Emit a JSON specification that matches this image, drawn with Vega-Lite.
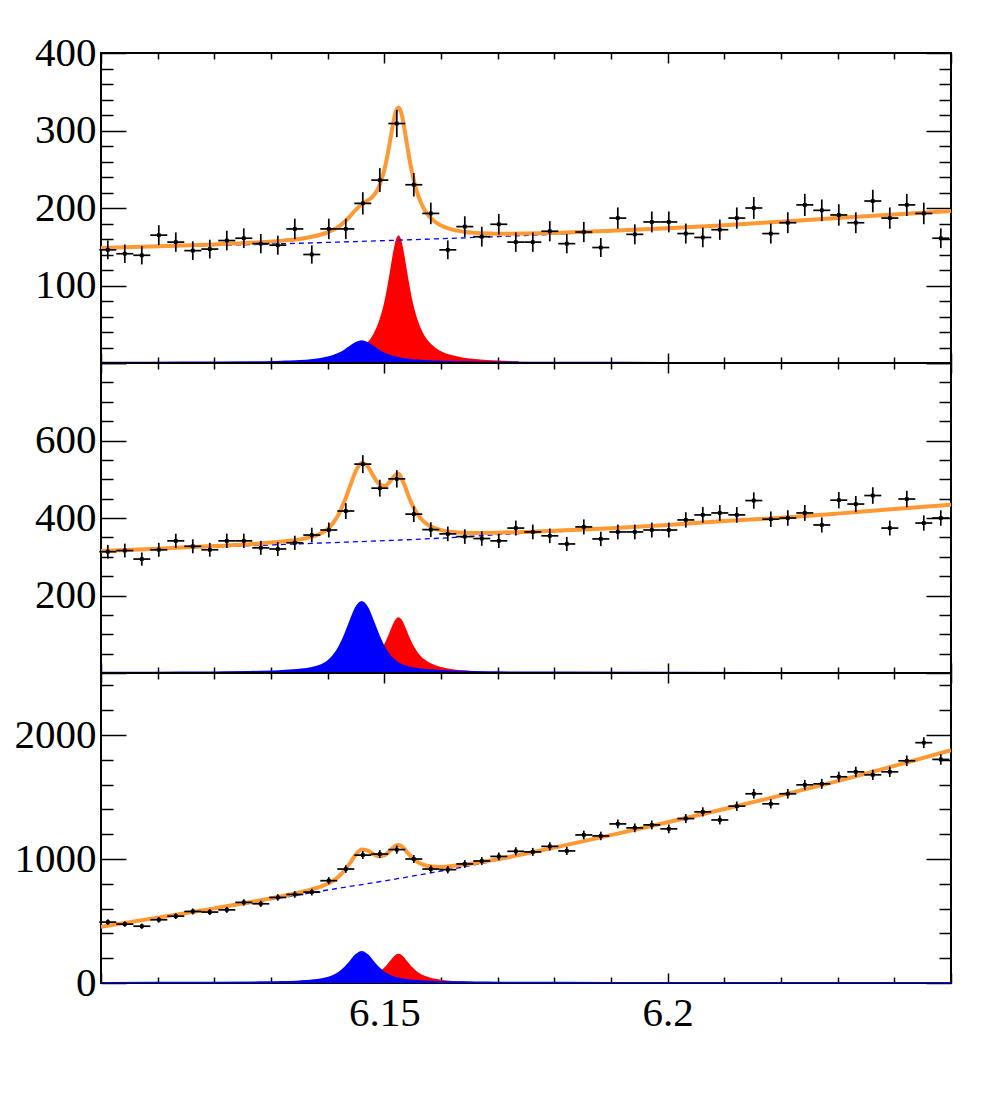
{
"$schema":"https://vega.github.io/schema/vega-lite/v6.json",
"padding":{"left":13,"top":31,"right":10,"bottom":10},
"spacing":0,
"bounds":"flush",
"config":{"view":{"stroke":"#000","strokeWidth":2},"axis":{"labelFont":"Liberation Serif","labelFontSize":41,"labelColor":"#000","tickColor":"#000","tickWidth":1.5,"domain":false,"grid":false,"labelOverlap":false,"labelBound":false,"labelFlush":false}},
"datasets":{
"pts":[
{"p":1,"x":6.1012,"y":146,"e":12.1},{"p":1,"x":6.1042,"y":141,"e":11.9},{"p":1,"x":6.1072,"y":139,"e":11.8},{"p":1,"x":6.1102,"y":165,"e":12.8},{"p":1,"x":6.1132,"y":156,"e":12.5},{"p":1,"x":6.1162,"y":145,"e":12.0},{"p":1,"x":6.1192,"y":147,"e":12.1},{"p":1,"x":6.1222,"y":158,"e":12.6},{"p":1,"x":6.1252,"y":161,"e":12.7},{"p":1,"x":6.1282,"y":154,"e":12.4},{"p":1,"x":6.1312,"y":152,"e":12.3},{"p":1,"x":6.1342,"y":173,"e":13.2},{"p":1,"x":6.1372,"y":140,"e":11.8},{"p":1,"x":6.1402,"y":173,"e":13.2},{"p":1,"x":6.1432,"y":173,"e":13.2},{"p":1,"x":6.1462,"y":206,"e":14.4},{"p":1,"x":6.1492,"y":236,"e":15.4},{"p":1,"x":6.1522,"y":309,"e":17.6},{"p":1,"x":6.1552,"y":230,"e":15.2},{"p":1,"x":6.1582,"y":193,"e":13.9},{"p":1,"x":6.1612,"y":146,"e":12.1},{"p":1,"x":6.1642,"y":176,"e":13.3},{"p":1,"x":6.1672,"y":163,"e":12.8},{"p":1,"x":6.1702,"y":179,"e":13.4},{"p":1,"x":6.1732,"y":156,"e":12.5},{"p":1,"x":6.1762,"y":156,"e":12.5},{"p":1,"x":6.1792,"y":170,"e":13.0},{"p":1,"x":6.1822,"y":154,"e":12.4},{"p":1,"x":6.1852,"y":169,"e":13.0},{"p":1,"x":6.1882,"y":149,"e":12.2},{"p":1,"x":6.1912,"y":187,"e":13.7},{"p":1,"x":6.1942,"y":166,"e":12.9},{"p":1,"x":6.1972,"y":182,"e":13.5},{"p":1,"x":6.2002,"y":182,"e":13.5},{"p":1,"x":6.2032,"y":167,"e":12.9},{"p":1,"x":6.2062,"y":162,"e":12.7},{"p":1,"x":6.2092,"y":172,"e":13.1},{"p":1,"x":6.2122,"y":187,"e":13.7},{"p":1,"x":6.2152,"y":200,"e":14.1},{"p":1,"x":6.2182,"y":167,"e":12.9},{"p":1,"x":6.2212,"y":181,"e":13.5},{"p":1,"x":6.2242,"y":204,"e":14.3},{"p":1,"x":6.2272,"y":197,"e":14.0},{"p":1,"x":6.2302,"y":191,"e":13.8},{"p":1,"x":6.2332,"y":181,"e":13.5},{"p":1,"x":6.2362,"y":209,"e":14.5},{"p":1,"x":6.2392,"y":187,"e":13.7},{"p":1,"x":6.2422,"y":204,"e":14.3},{"p":1,"x":6.2452,"y":193,"e":13.9},{"p":1,"x":6.2482,"y":161,"e":12.7},
{"p":2,"x":6.1012,"y":313,"e":17.7},{"p":2,"x":6.1042,"y":316,"e":17.8},{"p":2,"x":6.1072,"y":294,"e":17.1},{"p":2,"x":6.1102,"y":318,"e":17.8},{"p":2,"x":6.1132,"y":341,"e":18.5},{"p":2,"x":6.1162,"y":327,"e":18.1},{"p":2,"x":6.1192,"y":318,"e":17.8},{"p":2,"x":6.1222,"y":341,"e":18.5},{"p":2,"x":6.1252,"y":341,"e":18.5},{"p":2,"x":6.1282,"y":323,"e":18.0},{"p":2,"x":6.1312,"y":320,"e":17.9},{"p":2,"x":6.1342,"y":336,"e":18.3},{"p":2,"x":6.1372,"y":356,"e":18.9},{"p":2,"x":6.1402,"y":369,"e":19.2},{"p":2,"x":6.1432,"y":418,"e":20.4},{"p":2,"x":6.1462,"y":539,"e":23.2},{"p":2,"x":6.1492,"y":477,"e":21.8},{"p":2,"x":6.1522,"y":501,"e":22.4},{"p":2,"x":6.1552,"y":410,"e":20.2},{"p":2,"x":6.1582,"y":370,"e":19.2},{"p":2,"x":6.1612,"y":359,"e":18.9},{"p":2,"x":6.1642,"y":352,"e":18.8},{"p":2,"x":6.1672,"y":347,"e":18.6},{"p":2,"x":6.1702,"y":341,"e":18.5},{"p":2,"x":6.1732,"y":374,"e":19.3},{"p":2,"x":6.1762,"y":364,"e":19.1},{"p":2,"x":6.1792,"y":354,"e":18.8},{"p":2,"x":6.1822,"y":333,"e":18.2},{"p":2,"x":6.1852,"y":377,"e":19.4},{"p":2,"x":6.1882,"y":346,"e":18.6},{"p":2,"x":6.1912,"y":364,"e":19.1},{"p":2,"x":6.1942,"y":364,"e":19.1},{"p":2,"x":6.1972,"y":369,"e":19.2},{"p":2,"x":6.2002,"y":369,"e":19.2},{"p":2,"x":6.2032,"y":395,"e":19.9},{"p":2,"x":6.2062,"y":408,"e":20.2},{"p":2,"x":6.2092,"y":413,"e":20.3},{"p":2,"x":6.2122,"y":408,"e":20.2},{"p":2,"x":6.2152,"y":445,"e":21.1},{"p":2,"x":6.2182,"y":397,"e":19.9},{"p":2,"x":6.2212,"y":400,"e":20.0},{"p":2,"x":6.2242,"y":413,"e":20.3},{"p":2,"x":6.2272,"y":382,"e":19.5},{"p":2,"x":6.2302,"y":446,"e":21.1},{"p":2,"x":6.2332,"y":436,"e":20.9},{"p":2,"x":6.2362,"y":458,"e":21.4},{"p":2,"x":6.2392,"y":374,"e":19.3},{"p":2,"x":6.2422,"y":449,"e":21.2},{"p":2,"x":6.2452,"y":387,"e":19.7},{"p":2,"x":6.2482,"y":400,"e":20.0},
{"p":3,"x":6.1012,"y":491,"e":22.2},{"p":3,"x":6.1042,"y":475,"e":21.8},{"p":3,"x":6.1072,"y":458,"e":21.4},{"p":3,"x":6.1102,"y":510,"e":22.6},{"p":3,"x":6.1132,"y":539,"e":23.2},{"p":3,"x":6.1162,"y":577,"e":24.0},{"p":3,"x":6.1192,"y":572,"e":23.9},{"p":3,"x":6.1222,"y":590,"e":24.3},{"p":3,"x":6.1252,"y":650,"e":25.5},{"p":3,"x":6.1282,"y":639,"e":25.3},{"p":3,"x":6.1312,"y":690,"e":26.3},{"p":3,"x":6.1342,"y":714,"e":26.7},{"p":3,"x":6.1372,"y":733,"e":27.1},{"p":3,"x":6.1402,"y":825,"e":28.7},{"p":3,"x":6.1432,"y":919,"e":30.3},{"p":3,"x":6.1462,"y":1032,"e":32.1},{"p":3,"x":6.1492,"y":1040,"e":32.2},{"p":3,"x":6.1522,"y":1076,"e":32.8},{"p":3,"x":6.1552,"y":1000,"e":31.6},{"p":3,"x":6.1582,"y":919,"e":30.3},{"p":3,"x":6.1612,"y":914,"e":30.2},{"p":3,"x":6.1642,"y":960,"e":31.0},{"p":3,"x":6.1672,"y":984,"e":31.4},{"p":3,"x":6.1702,"y":1021,"e":32.0},{"p":3,"x":6.1732,"y":1062,"e":32.6},{"p":3,"x":6.1762,"y":1057,"e":32.5},{"p":3,"x":6.1792,"y":1102,"e":33.2},{"p":3,"x":6.1822,"y":1065,"e":32.6},{"p":3,"x":6.1852,"y":1194,"e":34.6},{"p":3,"x":6.1882,"y":1186,"e":34.4},{"p":3,"x":6.1912,"y":1283,"e":35.8},{"p":3,"x":6.1942,"y":1251,"e":35.4},{"p":3,"x":6.1972,"y":1275,"e":35.7},{"p":3,"x":6.2002,"y":1243,"e":35.3},{"p":3,"x":6.2032,"y":1326,"e":36.4},{"p":3,"x":6.2062,"y":1380,"e":37.1},{"p":3,"x":6.2092,"y":1315,"e":36.3},{"p":3,"x":6.2122,"y":1426,"e":37.8},{"p":3,"x":6.2152,"y":1526,"e":39.1},{"p":3,"x":6.2182,"y":1445,"e":38.0},{"p":3,"x":6.2212,"y":1526,"e":39.1},{"p":3,"x":6.2242,"y":1598,"e":40.0},{"p":3,"x":6.2272,"y":1606,"e":40.1},{"p":3,"x":6.2302,"y":1663,"e":40.8},{"p":3,"x":6.2332,"y":1703,"e":41.3},{"p":3,"x":6.2362,"y":1679,"e":41.0},{"p":3,"x":6.2392,"y":1703,"e":41.3},{"p":3,"x":6.2422,"y":1792,"e":42.3},{"p":3,"x":6.2452,"y":1938,"e":44.0},{"p":3,"x":6.2482,"y":1803,"e":42.5}
],
"cur":[
{"p":1,"k":"bg","x":6.10,"y":148},{"p":1,"k":"bg","x":6.11,"y":149.8},{"p":1,"k":"bg","x":6.12,"y":151.6},{"p":1,"k":"bg","x":6.13,"y":153.5},{"p":1,"k":"bg","x":6.14,"y":155.6},{"p":1,"k":"bg","x":6.15,"y":157.9},{"p":1,"k":"bg","x":6.16,"y":160.4},{"p":1,"k":"bg","x":6.17,"y":163.1},{"p":1,"k":"bg","x":6.18,"y":166.2},{"p":1,"k":"bg","x":6.19,"y":169.6},{"p":1,"k":"bg","x":6.20,"y":173.4},{"p":1,"k":"bg","x":6.21,"y":177.5},{"p":1,"k":"bg","x":6.22,"y":182},{"p":1,"k":"bg","x":6.23,"y":186.8},{"p":1,"k":"bg","x":6.24,"y":191.5},{"p":1,"k":"bg","x":6.25,"y":196},
{"p":1,"k":"t","x":6.100,"y":148.4},{"p":1,"k":"t","x":6.110,"y":150.6},{"p":1,"k":"t","x":6.120,"y":153.0},{"p":1,"k":"t","x":6.128,"y":155.7},{"p":1,"k":"t","x":6.132,"y":157.9},{"p":1,"k":"t","x":6.135,"y":160.1},{"p":1,"k":"t","x":6.137,"y":162.5},{"p":1,"k":"t","x":6.139,"y":166.1},{"p":1,"k":"t","x":6.140,"y":168.6},{"p":1,"k":"t","x":6.141,"y":171.9},{"p":1,"k":"t","x":6.142,"y":176.4},{"p":1,"k":"t","x":6.143,"y":182.3},{"p":1,"k":"t","x":6.144,"y":189.8},{"p":1,"k":"t","x":6.145,"y":198.0},{"p":1,"k":"t","x":6.146,"y":204.8},{"p":1,"k":"t","x":6.147,"y":209.5},{"p":1,"k":"t","x":6.148,"y":215.0},{"p":1,"k":"t","x":6.149,"y":226.6},{"p":1,"k":"t","x":6.150,"y":249.1},{"p":1,"k":"t","x":6.1505,"y":266.0},{"p":1,"k":"t","x":6.151,"y":286.0},{"p":1,"k":"t","x":6.1515,"y":307.0},{"p":1,"k":"t","x":6.152,"y":323.7},{"p":1,"k":"t","x":6.1525,"y":329.8},{"p":1,"k":"t","x":6.153,"y":322.5},{"p":1,"k":"t","x":6.1535,"y":304.4},{"p":1,"k":"t","x":6.154,"y":282.0},{"p":1,"k":"t","x":6.1545,"y":260.5},{"p":1,"k":"t","x":6.155,"y":242.0},{"p":1,"k":"t","x":6.156,"y":215.3},{"p":1,"k":"t","x":6.157,"y":198.8},{"p":1,"k":"t","x":6.158,"y":188.5},{"p":1,"k":"t","x":6.159,"y":181.9},{"p":1,"k":"t","x":6.160,"y":177.4},{"p":1,"k":"t","x":6.162,"y":172.1},{"p":1,"k":"t","x":6.164,"y":169.4},{"p":1,"k":"t","x":6.166,"y":167.9},{"p":1,"k":"t","x":6.168,"y":167.2},{"p":1,"k":"t","x":6.170,"y":166.7},{"p":1,"k":"t","x":6.175,"y":167.0},{"p":1,"k":"t","x":6.180,"y":167.9},{"p":1,"k":"t","x":6.190,"y":170.6},{"p":1,"k":"t","x":6.200,"y":174.0},{"p":1,"k":"t","x":6.210,"y":177.9},{"p":1,"k":"t","x":6.220,"y":182.3},{"p":1,"k":"t","x":6.230,"y":187.0},{"p":1,"k":"t","x":6.240,"y":191.7},{"p":1,"k":"t","x":6.250,"y":196.1},
{"p":1,"k":"r","x":6.134,"y":2.7},{"p":1,"k":"r","x":6.136,"y":3.4},{"p":1,"k":"r","x":6.138,"y":4.4},{"p":1,"k":"r","x":6.140,"y":5.9},{"p":1,"k":"r","x":6.141,"y":6.9},{"p":1,"k":"r","x":6.142,"y":8.2},{"p":1,"k":"r","x":6.143,"y":9.9},{"p":1,"k":"r","x":6.144,"y":12.2},{"p":1,"k":"r","x":6.145,"y":15.3},{"p":1,"k":"r","x":6.146,"y":19.8},{"p":1,"k":"r","x":6.147,"y":26.4},{"p":1,"k":"r","x":6.148,"y":36.5},{"p":1,"k":"r","x":6.149,"y":52.8},{"p":1,"k":"r","x":6.150,"y":79.1},{"p":1,"k":"r","x":6.1505,"y":97.4},{"p":1,"k":"r","x":6.151,"y":118.6},{"p":1,"k":"r","x":6.1515,"y":140.6},{"p":1,"k":"r","x":6.152,"y":158.2},{"p":1,"k":"r","x":6.1525,"y":165},{"p":1,"k":"r","x":6.153,"y":158.2},{"p":1,"k":"r","x":6.1535,"y":140.6},{"p":1,"k":"r","x":6.154,"y":118.6},{"p":1,"k":"r","x":6.1545,"y":97.4},{"p":1,"k":"r","x":6.155,"y":79.1},{"p":1,"k":"r","x":6.156,"y":52.8},{"p":1,"k":"r","x":6.157,"y":36.5},{"p":1,"k":"r","x":6.158,"y":26.4},{"p":1,"k":"r","x":6.159,"y":19.8},{"p":1,"k":"r","x":6.160,"y":15.3},{"p":1,"k":"r","x":6.162,"y":9.9},{"p":1,"k":"r","x":6.164,"y":6.9},{"p":1,"k":"r","x":6.166,"y":5.1},{"p":1,"k":"r","x":6.168,"y":3.9},{"p":1,"k":"r","x":6.170,"y":3.1},{"p":1,"k":"r","x":6.172,"y":2.5},{"p":1,"k":"r","x":6.1737,"y":2.1},
{"p":1,"k":"b","x":6.100,"y":0.3},{"p":1,"k":"b","x":6.115,"y":0.6},{"p":1,"k":"b","x":6.128,"y":1.0},{"p":1,"k":"b","x":6.132,"y":1.7},{"p":1,"k":"b","x":6.135,"y":2.6},{"p":1,"k":"b","x":6.137,"y":3.7},{"p":1,"k":"b","x":6.139,"y":5.6},{"p":1,"k":"b","x":6.140,"y":7.1},{"p":1,"k":"b","x":6.141,"y":9.2},{"p":1,"k":"b","x":6.142,"y":12.1},{"p":1,"k":"b","x":6.143,"y":16.1},{"p":1,"k":"b","x":6.144,"y":21.1},{"p":1,"k":"b","x":6.145,"y":25.9},{"p":1,"k":"b","x":6.146,"y":28},{"p":1,"k":"b","x":6.147,"y":25.9},{"p":1,"k":"b","x":6.148,"y":21.1},{"p":1,"k":"b","x":6.149,"y":16.1},{"p":1,"k":"b","x":6.150,"y":12.1},{"p":1,"k":"b","x":6.151,"y":9.2},{"p":1,"k":"b","x":6.152,"y":7.1},{"p":1,"k":"b","x":6.153,"y":5.6},{"p":1,"k":"b","x":6.154,"y":4.5},{"p":1,"k":"b","x":6.155,"y":3.7},{"p":1,"k":"b","x":6.156,"y":3.1},{"p":1,"k":"b","x":6.157,"y":2.6},{"p":1,"k":"b","x":6.158,"y":2.2},{"p":1,"k":"b","x":6.160,"y":1.7},{"p":1,"k":"b","x":6.162,"y":1.3},{"p":1,"k":"b","x":6.164,"y":1.0},{"p":1,"k":"b","x":6.166,"y":0.8},{"p":1,"k":"b","x":6.170,"y":0.6},{"p":1,"k":"b","x":6.180,"y":0.3},{"p":1,"k":"b","x":6.200,"y":0.15},{"p":1,"k":"b","x":6.250,"y":0.05},
{"p":2,"k":"bg","x":6.10,"y":314},{"p":2,"k":"bg","x":6.11,"y":319.5},{"p":2,"k":"bg","x":6.12,"y":325},{"p":2,"k":"bg","x":6.13,"y":330.5},{"p":2,"k":"bg","x":6.14,"y":336},{"p":2,"k":"bg","x":6.15,"y":341.5},{"p":2,"k":"bg","x":6.16,"y":348},{"p":2,"k":"bg","x":6.17,"y":357},{"p":2,"k":"bg","x":6.18,"y":364.5},{"p":2,"k":"bg","x":6.19,"y":372},{"p":2,"k":"bg","x":6.20,"y":381},{"p":2,"k":"bg","x":6.21,"y":391.5},{"p":2,"k":"bg","x":6.22,"y":400},{"p":2,"k":"bg","x":6.23,"y":411},{"p":2,"k":"bg","x":6.24,"y":423},{"p":2,"k":"bg","x":6.25,"y":434},
{"p":2,"k":"t","x":6.100,"y":314.9},{"p":2,"k":"t","x":6.110,"y":320.9},{"p":2,"k":"t","x":6.120,"y":327.5},{"p":2,"k":"t","x":6.128,"y":334.2},{"p":2,"k":"t","x":6.132,"y":339.2},{"p":2,"k":"t","x":6.135,"y":344.7},{"p":2,"k":"t","x":6.137,"y":350.6},{"p":2,"k":"t","x":6.139,"y":361.6},{"p":2,"k":"t","x":6.140,"y":371.7},{"p":2,"k":"t","x":6.141,"y":387.6},{"p":2,"k":"t","x":6.142,"y":411.4},{"p":2,"k":"t","x":6.143,"y":444.3},{"p":2,"k":"t","x":6.144,"y":484.2},{"p":2,"k":"t","x":6.145,"y":522.4},{"p":2,"k":"t","x":6.146,"y":542.2},{"p":2,"k":"t","x":6.147,"y":534.3},{"p":2,"k":"t","x":6.148,"y":510.1},{"p":2,"k":"t","x":6.149,"y":488.8},{"p":2,"k":"t","x":6.150,"y":482.3},{"p":2,"k":"t","x":6.1505,"y":486.2},{"p":2,"k":"t","x":6.151,"y":494.2},{"p":2,"k":"t","x":6.1515,"y":503.9},{"p":2,"k":"t","x":6.152,"y":511.4},{"p":2,"k":"t","x":6.1525,"y":514.1},{"p":2,"k":"t","x":6.153,"y":503.3},{"p":2,"k":"t","x":6.1535,"y":487.1},{"p":2,"k":"t","x":6.154,"y":467.7},{"p":2,"k":"t","x":6.1545,"y":448.6},{"p":2,"k":"t","x":6.155,"y":431.8},{"p":2,"k":"t","x":6.156,"y":406.6},{"p":2,"k":"t","x":6.157,"y":390.4},{"p":2,"k":"t","x":6.158,"y":380.0},{"p":2,"k":"t","x":6.159,"y":373.4},{"p":2,"k":"t","x":6.160,"y":368.8},{"p":2,"k":"t","x":6.162,"y":363.9},{"p":2,"k":"t","x":6.164,"y":361.8},{"p":2,"k":"t","x":6.166,"y":361.2},{"p":2,"k":"t","x":6.168,"y":361.3},{"p":2,"k":"t","x":6.170,"y":362.0},{"p":2,"k":"t","x":6.175,"y":364.1},{"p":2,"k":"t","x":6.180,"y":366.9},{"p":2,"k":"t","x":6.190,"y":373.4},{"p":2,"k":"t","x":6.200,"y":381.9},{"p":2,"k":"t","x":6.210,"y":392.1},{"p":2,"k":"t","x":6.220,"y":400.4},{"p":2,"k":"t","x":6.230,"y":411.3},{"p":2,"k":"t","x":6.240,"y":423.3},{"p":2,"k":"t","x":6.250,"y":434.2},
{"p":2,"k":"r","x":6.136,"y":3.5},{"p":2,"k":"r","x":6.138,"y":4.5},{"p":2,"k":"r","x":6.140,"y":6.0},{"p":2,"k":"r","x":6.141,"y":7.0},{"p":2,"k":"r","x":6.142,"y":8.3},{"p":2,"k":"r","x":6.143,"y":10.0},{"p":2,"k":"r","x":6.144,"y":12.3},{"p":2,"k":"r","x":6.145,"y":15.5},{"p":2,"k":"r","x":6.146,"y":19.9},{"p":2,"k":"r","x":6.147,"y":26.3},{"p":2,"k":"r","x":6.148,"y":36.0},{"p":2,"k":"r","x":6.149,"y":51.2},{"p":2,"k":"r","x":6.150,"y":74.8},{"p":2,"k":"r","x":6.1505,"y":90.5},{"p":2,"k":"r","x":6.151,"y":108.0},{"p":2,"k":"r","x":6.1515,"y":125.4},{"p":2,"k":"r","x":6.152,"y":138.9},{"p":2,"k":"r","x":6.1525,"y":144},{"p":2,"k":"r","x":6.153,"y":138.9},{"p":2,"k":"r","x":6.1535,"y":125.4},{"p":2,"k":"r","x":6.154,"y":108.0},{"p":2,"k":"r","x":6.1545,"y":90.5},{"p":2,"k":"r","x":6.155,"y":74.8},{"p":2,"k":"r","x":6.156,"y":51.2},{"p":2,"k":"r","x":6.157,"y":36.0},{"p":2,"k":"r","x":6.158,"y":26.3},{"p":2,"k":"r","x":6.159,"y":19.9},{"p":2,"k":"r","x":6.160,"y":15.5},{"p":2,"k":"r","x":6.162,"y":10.0},{"p":2,"k":"r","x":6.164,"y":7.0},{"p":2,"k":"r","x":6.165,"y":6.0},
{"p":2,"k":"b","x":6.100,"y":0.5},{"p":2,"k":"b","x":6.110,"y":0.8},{"p":2,"k":"b","x":6.120,"y":1.6},{"p":2,"k":"b","x":6.128,"y":3.2},{"p":2,"k":"b","x":6.132,"y":5.3},{"p":2,"k":"b","x":6.135,"y":8.3},{"p":2,"k":"b","x":6.137,"y":12.2},{"p":2,"k":"b","x":6.139,"y":20.9},{"p":2,"k":"b","x":6.140,"y":29.7},{"p":2,"k":"b","x":6.141,"y":44.0},{"p":2,"k":"b","x":6.142,"y":66.0},{"p":2,"k":"b","x":6.143,"y":96.6},{"p":2,"k":"b","x":6.144,"y":133.7},{"p":2,"k":"b","x":6.145,"y":168.1},{"p":2,"k":"b","x":6.146,"y":183},{"p":2,"k":"b","x":6.147,"y":168.1},{"p":2,"k":"b","x":6.148,"y":133.7},{"p":2,"k":"b","x":6.149,"y":96.6},{"p":2,"k":"b","x":6.150,"y":66.0},{"p":2,"k":"b","x":6.151,"y":44.0},{"p":2,"k":"b","x":6.152,"y":29.7},{"p":2,"k":"b","x":6.153,"y":20.9},{"p":2,"k":"b","x":6.154,"y":15.6},{"p":2,"k":"b","x":6.155,"y":12.2},{"p":2,"k":"b","x":6.156,"y":10.0},{"p":2,"k":"b","x":6.157,"y":8.3},{"p":2,"k":"b","x":6.158,"y":7.0},{"p":2,"k":"b","x":6.160,"y":5.3},{"p":2,"k":"b","x":6.162,"y":4.1},{"p":2,"k":"b","x":6.164,"y":3.2},{"p":2,"k":"b","x":6.166,"y":2.6},{"p":2,"k":"b","x":6.170,"y":1.9},{"p":2,"k":"b","x":6.175,"y":1.3},{"p":2,"k":"b","x":6.180,"y":1.0},{"p":2,"k":"b","x":6.200,"y":0.4},{"p":2,"k":"b","x":6.250,"y":0.1},
{"p":3,"k":"bg","x":6.10,"y":453},{"p":3,"k":"bg","x":6.11,"y":525},{"p":3,"k":"bg","x":6.12,"y":598},{"p":3,"k":"bg","x":6.13,"y":673},{"p":3,"k":"bg","x":6.14,"y":750},{"p":3,"k":"bg","x":6.15,"y":823},{"p":3,"k":"bg","x":6.16,"y":903},{"p":3,"k":"bg","x":6.17,"y":990},{"p":3,"k":"bg","x":6.18,"y":1088},{"p":3,"k":"bg","x":6.19,"y":1190},{"p":3,"k":"bg","x":6.20,"y":1295},{"p":3,"k":"bg","x":6.21,"y":1402},{"p":3,"k":"bg","x":6.22,"y":1512},{"p":3,"k":"bg","x":6.23,"y":1627},{"p":3,"k":"bg","x":6.24,"y":1750},{"p":3,"k":"bg","x":6.25,"y":1877},
{"p":3,"k":"t","x":6.100,"y":454.4},{"p":3,"k":"t","x":6.110,"y":527.2},{"p":3,"k":"t","x":6.120,"y":602.0},{"p":3,"k":"t","x":6.128,"y":665.8},{"p":3,"k":"t","x":6.132,"y":700.5},{"p":3,"k":"t","x":6.135,"y":729.8},{"p":3,"k":"t","x":6.137,"y":752.6},{"p":3,"k":"t","x":6.139,"y":781.3},{"p":3,"k":"t","x":6.140,"y":800.5},{"p":3,"k":"t","x":6.141,"y":825.9},{"p":3,"k":"t","x":6.142,"y":861.0},{"p":3,"k":"t","x":6.143,"y":909.3},{"p":3,"k":"t","x":6.144,"y":971.4},{"p":3,"k":"t","x":6.145,"y":1037.4},{"p":3,"k":"t","x":6.146,"y":1077.3},{"p":3,"k":"t","x":6.147,"y":1070.2},{"p":3,"k":"t","x":6.148,"y":1040.3},{"p":3,"k":"t","x":6.149,"y":1021.7},{"p":3,"k":"t","x":6.150,"y":1029.6},{"p":3,"k":"t","x":6.1505,"y":1044.8},{"p":3,"k":"t","x":6.151,"y":1065.6},{"p":3,"k":"t","x":6.1515,"y":1088.3},{"p":3,"k":"t","x":6.152,"y":1106.1},{"p":3,"k":"t","x":6.1525,"y":1112.5},{"p":3,"k":"t","x":6.153,"y":1103.8},{"p":3,"k":"t","x":6.1535,"y":1083.0},{"p":3,"k":"t","x":6.154,"y":1056.1},{"p":3,"k":"t","x":6.1545,"y":1029.3},{"p":3,"k":"t","x":6.155,"y":1005.7},{"p":3,"k":"t","x":6.156,"y":971.5},{"p":3,"k":"t","x":6.157,"y":951.8},{"p":3,"k":"t","x":6.158,"y":941.5},{"p":3,"k":"t","x":6.159,"y":937.1},{"p":3,"k":"t","x":6.160,"y":936.3},{"p":3,"k":"t","x":6.162,"y":943.8},{"p":3,"k":"t","x":6.164,"y":954.8},{"p":3,"k":"t","x":6.166,"y":968.0},{"p":3,"k":"t","x":6.168,"y":982.8},{"p":3,"k":"t","x":6.170,"y":998.2},{"p":3,"k":"t","x":6.175,"y":1044.2},{"p":3,"k":"t","x":6.180,"y":1091.9},{"p":3,"k":"t","x":6.190,"y":1192.3},{"p":3,"k":"t","x":6.200,"y":1296.5},{"p":3,"k":"t","x":6.210,"y":1403.1},{"p":3,"k":"t","x":6.220,"y":1512.8},{"p":3,"k":"t","x":6.230,"y":1627.6},{"p":3,"k":"t","x":6.240,"y":1750.5},{"p":3,"k":"t","x":6.250,"y":1877.4},
{"p":3,"k":"r","x":6.134,"y":4.7},{"p":3,"k":"r","x":6.136,"y":5.9},{"p":3,"k":"r","x":6.138,"y":7.6},{"p":3,"k":"r","x":6.140,"y":10.1},{"p":3,"k":"r","x":6.141,"y":11.9},{"p":3,"k":"r","x":6.142,"y":14.1},{"p":3,"k":"r","x":6.143,"y":17.0},{"p":3,"k":"r","x":6.144,"y":20.8},{"p":3,"k":"r","x":6.145,"y":26.1},{"p":3,"k":"r","x":6.146,"y":33.5},{"p":3,"k":"r","x":6.147,"y":44.3},{"p":3,"k":"r","x":6.148,"y":60.5},{"p":3,"k":"r","x":6.149,"y":85.6},{"p":3,"k":"r","x":6.150,"y":124.3},{"p":3,"k":"r","x":6.1505,"y":149.7},{"p":3,"k":"r","x":6.151,"y":178.0},{"p":3,"k":"r","x":6.1515,"y":205.8},{"p":3,"k":"r","x":6.152,"y":226.9},{"p":3,"k":"r","x":6.1525,"y":235},{"p":3,"k":"r","x":6.153,"y":226.9},{"p":3,"k":"r","x":6.1535,"y":205.8},{"p":3,"k":"r","x":6.154,"y":178.0},{"p":3,"k":"r","x":6.1545,"y":149.7},{"p":3,"k":"r","x":6.155,"y":124.3},{"p":3,"k":"r","x":6.156,"y":85.6},{"p":3,"k":"r","x":6.157,"y":60.5},{"p":3,"k":"r","x":6.158,"y":44.3},{"p":3,"k":"r","x":6.159,"y":33.5},{"p":3,"k":"r","x":6.160,"y":26.1},{"p":3,"k":"r","x":6.162,"y":17.0},{"p":3,"k":"r","x":6.164,"y":11.9},{"p":3,"k":"r","x":6.166,"y":8.7},
{"p":3,"k":"b","x":6.100,"y":0.8},{"p":3,"k":"b","x":6.110,"y":1.3},{"p":3,"k":"b","x":6.120,"y":2.5},{"p":3,"k":"b","x":6.128,"y":5.1},{"p":3,"k":"b","x":6.132,"y":8.2},{"p":3,"k":"b","x":6.135,"y":13.0},{"p":3,"k":"b","x":6.137,"y":18.9},{"p":3,"k":"b","x":6.139,"y":30.2},{"p":3,"k":"b","x":6.140,"y":40.4},{"p":3,"k":"b","x":6.141,"y":56.7},{"p":3,"k":"b","x":6.142,"y":82.3},{"p":3,"k":"b","x":6.143,"y":120.4},{"p":3,"k":"b","x":6.144,"y":171.4},{"p":3,"k":"b","x":6.145,"y":224.8},{"p":3,"k":"b","x":6.146,"y":250},{"p":3,"k":"b","x":6.147,"y":224.8},{"p":3,"k":"b","x":6.148,"y":171.4},{"p":3,"k":"b","x":6.149,"y":120.4},{"p":3,"k":"b","x":6.150,"y":82.3},{"p":3,"k":"b","x":6.151,"y":56.7},{"p":3,"k":"b","x":6.152,"y":40.4},{"p":3,"k":"b","x":6.153,"y":30.2},{"p":3,"k":"b","x":6.154,"y":23.5},{"p":3,"k":"b","x":6.155,"y":18.9},{"p":3,"k":"b","x":6.156,"y":15.5},{"p":3,"k":"b","x":6.157,"y":13.0},{"p":3,"k":"b","x":6.158,"y":11.0},{"p":3,"k":"b","x":6.160,"y":8.2},{"p":3,"k":"b","x":6.162,"y":6.4},{"p":3,"k":"b","x":6.164,"y":5.1},{"p":3,"k":"b","x":6.166,"y":4.1},{"p":3,"k":"b","x":6.170,"y":2.9},{"p":3,"k":"b","x":6.175,"y":2.0},{"p":3,"k":"b","x":6.180,"y":1.5},{"p":3,"k":"b","x":6.200,"y":0.7},{"p":3,"k":"b","x":6.250,"y":0.2}
]
},
"vconcat":[
{
"width":850,"height":310,
"layer":[
{
"encoding":{
"x":{"field":"x","type":"quantitative","scale":{"domain":[6.1,6.25],"nice":false,"zero":false},"axis":{"orient":"bottom","title":null,"values":[6.1,6.11,6.12,6.13,6.14,6.15,6.16,6.17,6.18,6.19,6.2,6.21,6.22,6.23,6.24,6.25],"labels":false,"tickSize":{"condition":{"test":"abs(datum.value*20-round(datum.value*20))<0.001","value":-10},"value":-6}}},
"y":{"field":"y","type":"quantitative","scale":{"domain":[0,400],"nice":false,"zero":true},"axis":{"orient":"left","title":null,"format":"d","values":[0,20,40,60,80,100,120,140,160,180,200,220,240,260,280,300,320,340,360,380,400],"labelExpr":"datum.value%100==0 && datum.value>0 ? datum.label : ''","tickSize":{"condition":{"test":"datum.value%100==0","value":-25},"value":-12},"labelPadding":30}}
},
"layer":[
{"data":{"name":"cur"},"transform":[{"filter":"datum.p==1 && datum.k=='r'"}],"mark":{"type":"area","color":"#ff0000","opacity":1,"fillOpacity":1,"interpolate":"monotone","clip":true}},
{"data":{"name":"cur"},"transform":[{"filter":"datum.p==1 && datum.k=='b'"}],"mark":{"type":"area","color":"#0000ff","opacity":1,"fillOpacity":1,"interpolate":"monotone","clip":true,"line":{"color":"#0000ff","strokeWidth":2}}},
{"data":{"name":"cur"},"transform":[{"filter":"datum.p==1 && datum.k=='bg'"}],"mark":{"type":"line","color":"#0000ff","strokeWidth":1.3,"strokeDash":[5,4],"interpolate":"monotone","clip":true}},
{"data":{"name":"cur"},"transform":[{"filter":"datum.p==1 && datum.k=='t'"}],"mark":{"type":"line","color":"#ff9933","strokeWidth":4,"interpolate":"monotone","clip":true}},
{"data":{"name":"pts"},"transform":[{"filter":"datum.p==1"}],"mark":{"type":"errorbar","color":"#000","thickness":1.7},"encoding":{"yError":{"field":"e"}}},
{"data":{"name":"pts"},"transform":[{"filter":"datum.p==1"}],"mark":{"type":"tick","orient":"horizontal","color":"#000","size":17,"thickness":1.7,"opacity":1}},
{"data":{"name":"pts"},"transform":[{"filter":"datum.p==1"}],"mark":{"type":"square","color":"#000","size":14,"opacity":1}}
]
},
{"data":{"name":"pts"},"transform":[{"filter":"datum.p==1"}],"mark":{"type":"point","opacity":0},
"encoding":{
"x":{"field":"x","type":"quantitative","scale":{"domain":[6.1,6.25],"nice":false,"zero":false},"axis":{"orient":"top","title":null,"values":[6.1,6.11,6.12,6.13,6.14,6.15,6.16,6.17,6.18,6.19,6.2,6.21,6.22,6.23,6.24,6.25],"labels":false,"tickSize":{"condition":{"test":"abs(datum.value*20-round(datum.value*20))<0.001","value":-10},"value":-6}}},
"y":{"field":"y","type":"quantitative","scale":{"domain":[0,400],"nice":false,"zero":true},"axis":{"orient":"right","title":null,"values":[0,20,40,60,80,100,120,140,160,180,200,220,240,260,280,300,320,340,360,380,400],"labels":false,"tickSize":{"condition":{"test":"datum.value%100==0","value":-25},"value":-12}}}
}}
],
"resolve":{"axis":{"x":"independent","y":"independent"}}
},
{
"width":850,"height":310,
"layer":[
{
"encoding":{
"x":{"field":"x","type":"quantitative","scale":{"domain":[6.1,6.25],"nice":false,"zero":false},"axis":{"orient":"bottom","title":null,"values":[6.1,6.11,6.12,6.13,6.14,6.15,6.16,6.17,6.18,6.19,6.2,6.21,6.22,6.23,6.24,6.25],"labels":false,"tickSize":{"condition":{"test":"abs(datum.value*20-round(datum.value*20))<0.001","value":-10},"value":-6}}},
"y":{"field":"y","type":"quantitative","scale":{"domain":[0,800],"nice":false,"zero":true},"axis":{"orient":"left","title":null,"format":"d","values":[0,50,100,150,200,250,300,350,400,450,500,550,600,650,700,750,800],"labelExpr":"datum.value%200==0 && datum.value>0 && datum.value<800 ? datum.label : ''","tickSize":{"condition":{"test":"datum.value%200==0","value":-25},"value":-12},"labelPadding":30}}
},
"layer":[
{"data":{"name":"cur"},"transform":[{"filter":"datum.p==2 && datum.k=='r'"}],"mark":{"type":"area","color":"#ff0000","opacity":1,"fillOpacity":1,"interpolate":"monotone","clip":true}},
{"data":{"name":"cur"},"transform":[{"filter":"datum.p==2 && datum.k=='b'"}],"mark":{"type":"area","color":"#0000ff","opacity":1,"fillOpacity":1,"interpolate":"monotone","clip":true,"line":{"color":"#0000ff","strokeWidth":2}}},
{"data":{"name":"cur"},"transform":[{"filter":"datum.p==2 && datum.k=='bg'"}],"mark":{"type":"line","color":"#0000ff","strokeWidth":1.3,"strokeDash":[5,4],"interpolate":"monotone","clip":true}},
{"data":{"name":"cur"},"transform":[{"filter":"datum.p==2 && datum.k=='t'"}],"mark":{"type":"line","color":"#ff9933","strokeWidth":4,"interpolate":"monotone","clip":true}},
{"data":{"name":"pts"},"transform":[{"filter":"datum.p==2"}],"mark":{"type":"errorbar","color":"#000","thickness":1.7},"encoding":{"yError":{"field":"e"}}},
{"data":{"name":"pts"},"transform":[{"filter":"datum.p==2"}],"mark":{"type":"tick","orient":"horizontal","color":"#000","size":17,"thickness":1.7,"opacity":1}},
{"data":{"name":"pts"},"transform":[{"filter":"datum.p==2"}],"mark":{"type":"square","color":"#000","size":14,"opacity":1}}
]
},
{"data":{"name":"pts"},"transform":[{"filter":"datum.p==2"}],"mark":{"type":"point","opacity":0},
"encoding":{
"x":{"field":"x","type":"quantitative","scale":{"domain":[6.1,6.25],"nice":false,"zero":false},"axis":{"orient":"top","title":null,"values":[6.1,6.11,6.12,6.13,6.14,6.15,6.16,6.17,6.18,6.19,6.2,6.21,6.22,6.23,6.24,6.25],"labels":false,"tickSize":{"condition":{"test":"abs(datum.value*20-round(datum.value*20))<0.001","value":-10},"value":-6}}},
"y":{"field":"y","type":"quantitative","scale":{"domain":[0,800],"nice":false,"zero":true},"axis":{"orient":"right","title":null,"values":[0,50,100,150,200,250,300,350,400,450,500,550,600,650,700,750,800],"labels":false,"tickSize":{"condition":{"test":"datum.value%200==0","value":-25},"value":-12}}}
}}
],
"resolve":{"axis":{"x":"independent","y":"independent"}}
},
{
"width":850,"height":310,
"layer":[
{
"encoding":{
"x":{"field":"x","type":"quantitative","scale":{"domain":[6.1,6.25],"nice":false,"zero":false},"axis":{"orient":"bottom","title":null,"values":[6.1,6.11,6.12,6.13,6.14,6.15,6.16,6.17,6.18,6.19,6.2,6.21,6.22,6.23,6.24,6.25],"labels":true,"labelExpr":"abs(datum.value-6.15)<0.0001 ? '6.15' : (abs(datum.value-6.2)<0.0001 ? '6.2' : '')","labelPadding":20,"tickSize":{"condition":{"test":"abs(datum.value*20-round(datum.value*20))<0.001","value":-10},"value":-6}}},
"y":{"field":"y","type":"quantitative","scale":{"domain":[0,2500],"nice":false,"zero":true},"axis":{"orient":"left","title":null,"format":"d","values":[0,200,400,600,800,1000,1200,1400,1600,1800,2000,2200,2400],"labelExpr":"datum.value%1000==0 ? datum.label : ''","tickSize":{"condition":{"test":"datum.value%1000==0","value":-25},"value":-12},"labelPadding":30}}
},
"layer":[
{"data":{"name":"cur"},"transform":[{"filter":"datum.p==3 && datum.k=='r'"}],"mark":{"type":"area","color":"#ff0000","opacity":1,"fillOpacity":1,"interpolate":"monotone","clip":true}},
{"data":{"name":"cur"},"transform":[{"filter":"datum.p==3 && datum.k=='b'"}],"mark":{"type":"area","color":"#0000ff","opacity":1,"fillOpacity":1,"interpolate":"monotone","clip":true,"line":{"color":"#0000ff","strokeWidth":2}}},
{"data":{"name":"cur"},"transform":[{"filter":"datum.p==3 && datum.k=='bg'"}],"mark":{"type":"line","color":"#0000ff","strokeWidth":1.3,"strokeDash":[5,4],"interpolate":"monotone","clip":true}},
{"data":{"name":"cur"},"transform":[{"filter":"datum.p==3 && datum.k=='t'"}],"mark":{"type":"line","color":"#ff9933","strokeWidth":4,"interpolate":"monotone","clip":true}},
{"data":{"name":"pts"},"transform":[{"filter":"datum.p==3"}],"mark":{"type":"errorbar","color":"#000","thickness":1.7},"encoding":{"yError":{"field":"e"}}},
{"data":{"name":"pts"},"transform":[{"filter":"datum.p==3"}],"mark":{"type":"tick","orient":"horizontal","color":"#000","size":17,"thickness":1.7,"opacity":1}},
{"data":{"name":"pts"},"transform":[{"filter":"datum.p==3"}],"mark":{"type":"square","color":"#000","size":14,"opacity":1}}
]
},
{"data":{"name":"pts"},"transform":[{"filter":"datum.p==3"}],"mark":{"type":"point","opacity":0},
"encoding":{
"x":{"field":"x","type":"quantitative","scale":{"domain":[6.1,6.25],"nice":false,"zero":false},"axis":{"orient":"top","title":null,"values":[6.1,6.11,6.12,6.13,6.14,6.15,6.16,6.17,6.18,6.19,6.2,6.21,6.22,6.23,6.24,6.25],"labels":false,"tickSize":{"condition":{"test":"abs(datum.value*20-round(datum.value*20))<0.001","value":-10},"value":-6}}},
"y":{"field":"y","type":"quantitative","scale":{"domain":[0,2500],"nice":false,"zero":true},"axis":{"orient":"right","title":null,"values":[0,200,400,600,800,1000,1200,1400,1600,1800,2000,2200,2400],"labels":false,"tickSize":{"condition":{"test":"datum.value%1000==0","value":-25},"value":-12}}}
}}
],
"resolve":{"axis":{"x":"independent","y":"independent"}}
}
]
}
